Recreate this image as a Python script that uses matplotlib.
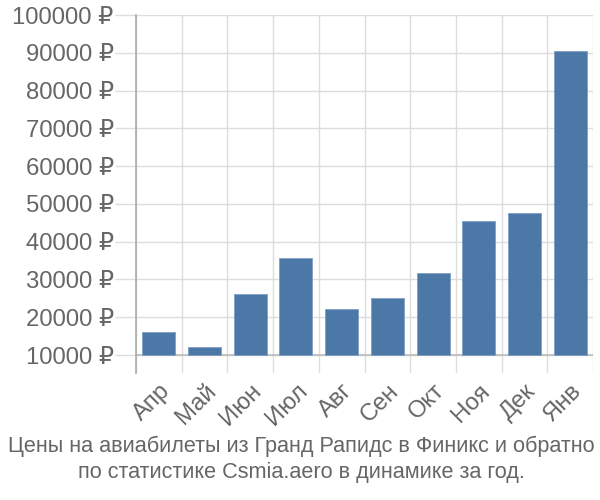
import matplotlib
matplotlib.use("Agg")
import matplotlib.pyplot as plt
from matplotlib.ticker import FixedLocator
import numpy as np

plt.rcParams['font.family'] = ['Liberation Sans', 'DejaVu Sans']

months = ['Апр', 'Май', 'Июн', 'Июл', 'Авг', 'Сен', 'Окт', 'Ноя', 'Дек', 'Янв']
prices = [16000, 12100, 26100, 35600, 22200, 25000, 31700, 45600, 47500, 90600]
yticks = [10000, 20000, 30000, 40000, 50000, 60000, 70000, 80000, 90000, 100000]
title = "Цены на авиабилеты из Гранд Рапидс в Финикс и обратно\nпо статистике Csmia.aero в динамике за год."

base = 10000
grid_c = '#dddddd'
text_c = '#666666'
bar_c = '#4c78a8'

fig = plt.figure(figsize=(6, 5), dpi=100)
ax = fig.add_axes([136 / 600, 1 - 373 / 500, 457 / 600, (373 - 15) / 500])

x = np.arange(len(months))
heights = [p - base for p in prices]
ax.bar(x, heights, bottom=base, width=0.72, color=bar_c, edgecolor='#7f9fc4', linewidth=0.6, zorder=3)

ax.set_xlim(-0.5, len(months) - 0.5)
ax.set_ylim(base - 18 * 264.6, 100000)

ax.set_yticks(yticks)
ax.set_yticklabels([f"{v} ₽" for v in yticks], fontsize=17.2, color=text_c)
ax.tick_params(axis='y', length=15, color=grid_c, width=1, pad=1)

ax.set_xticks(x)
ax.set_xticklabels(months, rotation=45, ha='right', rotation_mode='anchor', fontsize=17.2, color=text_c)
ax.tick_params(axis='x', length=0, pad=5)
ax.xaxis.set_minor_locator(FixedLocator(np.arange(-0.5, len(months), 1)))
ax.tick_params(axis='x', which='minor', length=0)

ax.grid(axis='y', color=grid_c, linewidth=1, zorder=0)
ax.grid(axis='x', which='minor', color=grid_c, linewidth=1, zorder=0)
ax.axhline(base, color='#bbbbbb', linewidth=1.2, zorder=2)

for s in ['top', 'right', 'bottom']:
    ax.spines[s].set_visible(False)
ax.spines['left'].set_color('#aaaaaa')
ax.spines['left'].set_linewidth(1.2)

fig.text(0.502, 1 - 459.5 / 500, title, ha='center', va='center', fontsize=15.6, color=text_c, linespacing=1.28)

fig.savefig('out.png', dpi=100)
